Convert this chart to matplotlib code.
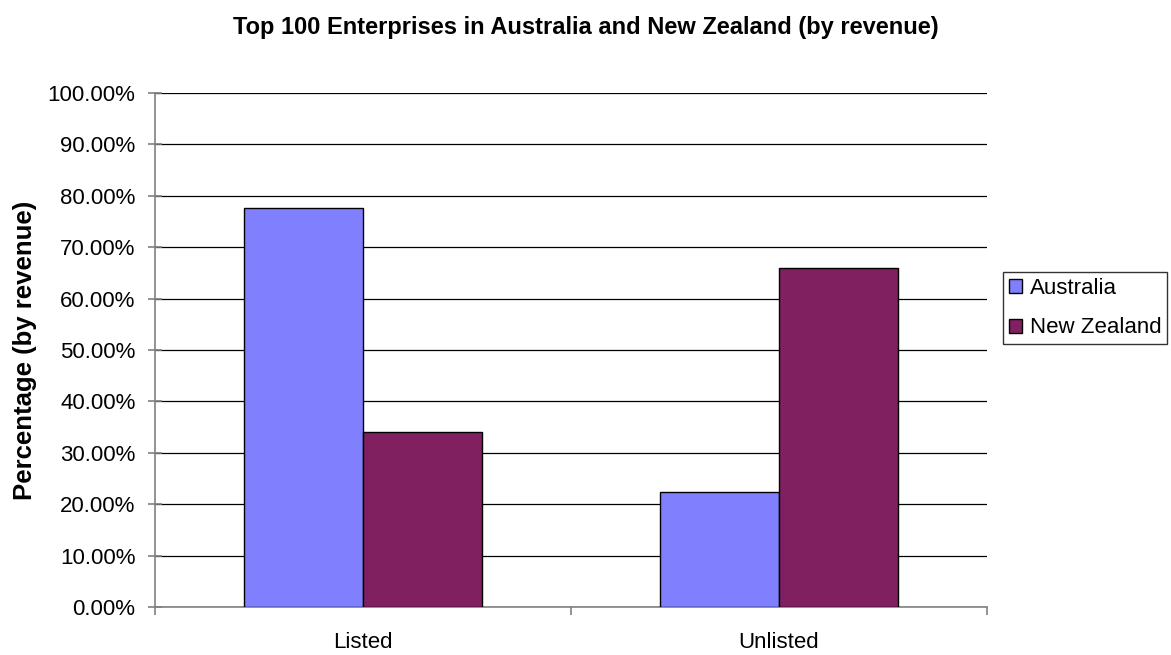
import matplotlib.pyplot as plt
import numpy as np
from matplotlib.ticker import FuncFormatter

plt.rcParams['font.family'] = ['Liberation Sans', 'DejaVu Sans']

categories = ['Listed', 'Unlisted']
australia = [77.6, 22.4]
new_zealand = [34.0, 66.0]

W, H = 1171, 655
fig = plt.figure(figsize=(W / 100, H / 100), dpi=100)
ax = fig.add_axes([155 / W, 48 / H, 832 / W, 514 / H])

x = np.arange(len(categories))
width = 1 / 3.5
ax.bar(x - width/2, australia, width, color='#8080ff', edgecolor='black', linewidth=1.0, label='Australia', zorder=3)
ax.bar(x + width/2, new_zealand, width, color='#802060', edgecolor='black', linewidth=1.0, label='New Zealand', zorder=3)

ax.set_xlim(-0.5, 1.5)
ax.set_ylim(0, 100)
ax.set_yticks(np.arange(0, 101, 10))
ax.yaxis.set_major_formatter(FuncFormatter(lambda v, p: '%.2f%%' % v))
ax.yaxis.grid(True, color='black', linewidth=0.9, zorder=0)

# ticks sit on the category boundaries, labels in the middle
ax.set_xticks([-0.5, 0.5, 1.5])
ax.set_xticklabels([])
ax.set_xticks(x, minor=True)
ax.set_xticklabels(categories, minor=True)
ax.tick_params(axis='x', which='minor', length=0, pad=18, labelsize=16)
ax.tick_params(axis='x', which='major', length=6, width=1.2, color='#808080', direction='out')
ax.tick_params(axis='y', length=10, width=1.2, color='#808080', direction='inout', labelsize=16, pad=9)

for s in ['top', 'right']:
    ax.spines[s].set_visible(False)
for s in ['left', 'bottom']:
    ax.spines[s].set_color('#808080')
    ax.spines[s].set_linewidth(1.2)

ax.set_ylabel('Percentage (by revenue)', fontsize=18.5, fontweight='bold', labelpad=8)
fig.text(0.5, 1 - 34 / H, 'Top 100 Enterprises in Australia and New Zealand (by revenue)',
         ha='center', va='baseline', fontsize=17, fontweight='bold')

leg = ax.legend(loc='upper left', bbox_to_anchor=(1003 / W, 1 - 272 / H),
                bbox_transform=fig.transFigure, borderaxespad=0, fontsize=16,
                frameon=True, fancybox=False, edgecolor='black', handlelength=0.6,
                handleheight=0.6, handletextpad=0.35, borderpad=0.25, labelspacing=0.85)
leg.get_frame().set_linewidth(1.0)

fig.savefig('out.png', dpi=100)
